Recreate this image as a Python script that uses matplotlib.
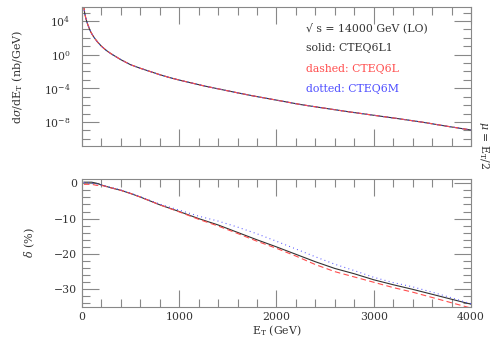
import numpy as np
import matplotlib
matplotlib.use("Agg")
import matplotlib.pyplot as plt
from matplotlib.ticker import MultipleLocator, FixedLocator, NullFormatter

# ---- data ----
et_top = [18, 25, 30, 40, 50, 60, 75, 90, 110, 130, 160, 200, 250, 300, 400, 500,
          600, 700, 800, 900, 1000, 1250, 1500, 1750, 2000, 2250, 2500, 2750, 3000,
          3250, 3500, 3750, 4000]
log_xsec = [5.8, 5.15, 4.8, 4.3, 3.9, 3.55, 3.1, 2.7, 2.3, 1.95, 1.5, 1.0, 0.5, 0.1,
            -0.6, -1.2, -1.62, -2.0, -2.38, -2.72, -3.02, -3.7, -4.3, -4.88, -5.4,
            -5.93, -6.37, -6.8, -7.2, -7.6, -8.02, -8.5, -8.95]

et_bot = [20, 100, 150, 200, 300, 400, 500, 600, 800, 1000, 1200, 1400, 1600, 1800,
          2000, 2200, 2400, 2600, 2800, 3000, 3200, 3400, 3600, 3800, 4000]
delta_solid = [0.3, 0.3, 0.0, -0.5, -1.3, -2.0, -2.9, -3.9, -6.1, -8.0, -10.0, -11.8,
               -13.9, -16.0, -18.0, -20.1, -22.2, -24.1, -25.6, -27.3, -28.7, -30.0,
               -31.4, -32.8, -34.2]
delta_dashed = [-0.3, -0.3, -0.6, -0.6, -1.3, -2.0, -2.9, -3.9, -6.1, -8.1, -10.2,
                -12.1, -14.2, -16.4, -18.4, -20.6, -23.0, -25.0, -26.5, -28.0, -29.5,
                -30.8, -32.3, -33.8, -35.3]
delta_dotted = [0.2, 0.0, -0.2, -0.5, -1.2, -1.9, -2.8, -3.8, -5.9, -7.6, -9.3, -10.7,
                -12.4, -14.3, -16.4, -18.6, -20.8, -22.9, -24.7, -26.6, -28.1, -29.3,
                -30.8, -32.4, -34.1]

legend_lines = ["√ s = 14000 GeV (LO)", "solid: CTEQ6L1", "dashed: CTEQ6L", "dotted: CTEQ6M"]

# ---- style ----
plt.rcParams['font.family'] = ['DejaVu Serif']
plt.rcParams['mathtext.fontset'] = 'dejavuserif'
black = '#333333'
red = '#ff4d4d'
blue = '#4d4dff'
spine_c = '#888888'

fig = plt.figure(figsize=(4.94, 3.38), dpi=100)
ax1 = fig.add_axes([0.166, 0.568, 0.7874, 0.4113])
ax2 = fig.add_axes([0.166, 0.0917, 0.7874, 0.3787])

xsec = 10.0 ** np.array(log_xsec)
ax1.plot(et_top, xsec, color=black, lw=0.8)
ax1.plot(et_top, xsec, color=red, lw=0.8, dashes=(5, 3))
ax1.plot(et_top, xsec, color=blue, lw=0.8, dashes=(0.8, 3))
ax1.set_yscale('log')
ax1.set_ylim(1.4e-11, 4.6e5)
ax1.set_xlim(0, 4000)
ax1.yaxis.set_major_locator(FixedLocator([1e-8, 1e-4, 1e0, 1e4]))
ax1.yaxis.set_minor_locator(FixedLocator([10.0 ** k for k in range(-11, 6)]))
ax1.yaxis.set_minor_formatter(NullFormatter())
ax1.xaxis.set_major_locator(MultipleLocator(1000))
ax1.xaxis.set_minor_locator(MultipleLocator(200))
ax1.set_xticklabels([])
ax1.set_ylabel(r'd$\sigma$/dE$_\mathrm{T}$ (nb/GeV)', fontsize=8, color=black, labelpad=14)

ys = [28, 48, 69, 89]
cols = [black, black, red, blue]
for txt, yp, c in zip(legend_lines, ys, cols):
    fig.text(306 / 494, 1 - yp / 338, txt, color=c, fontsize=7.8, va='center', ha='left')

ax2.plot(et_bot, delta_solid, color=black, lw=0.8)
ax2.plot(et_bot, delta_dashed, color=red, lw=0.8, dashes=(5, 3))
ax2.plot(et_bot, delta_dotted, color=blue, lw=0.8, dashes=(0.8, 3))
ax2.set_xlim(0, 4000)
ax2.set_ylim(-35, 1.2)
ax2.xaxis.set_major_locator(MultipleLocator(1000))
ax2.xaxis.set_minor_locator(MultipleLocator(200))
ax2.yaxis.set_major_locator(MultipleLocator(10))
ax2.yaxis.set_minor_locator(MultipleLocator(2))
ax2.set_ylabel(r'$\delta$ (%)', fontsize=8, color=black, labelpad=12)
ax2.set_xlabel(r'E$_\mathrm{T}$ (GeV)', fontsize=7.8, color=black, labelpad=1)

for ax in (ax1, ax2):
    for s in ax.spines.values():
        s.set_color(spine_c)
        s.set_linewidth(0.8)
    ax.tick_params(which='both', direction='in', top=True, right=True, color=spine_c,
                   labelcolor=black, labelsize=7.8, width=0.8)
    ax.tick_params(which='major', length=12)
    ax.tick_params(which='minor', length=5.5)
ax1.tick_params(axis='y', which='major', pad=8)

fig.text(484 / 494, 1 - 145 / 338, r'$\mu$ = E$_\mathrm{T}$/2', rotation=-90,
         fontsize=7.8, color=black, va='center', ha='center')

fig.savefig('out.png', dpi=100)
